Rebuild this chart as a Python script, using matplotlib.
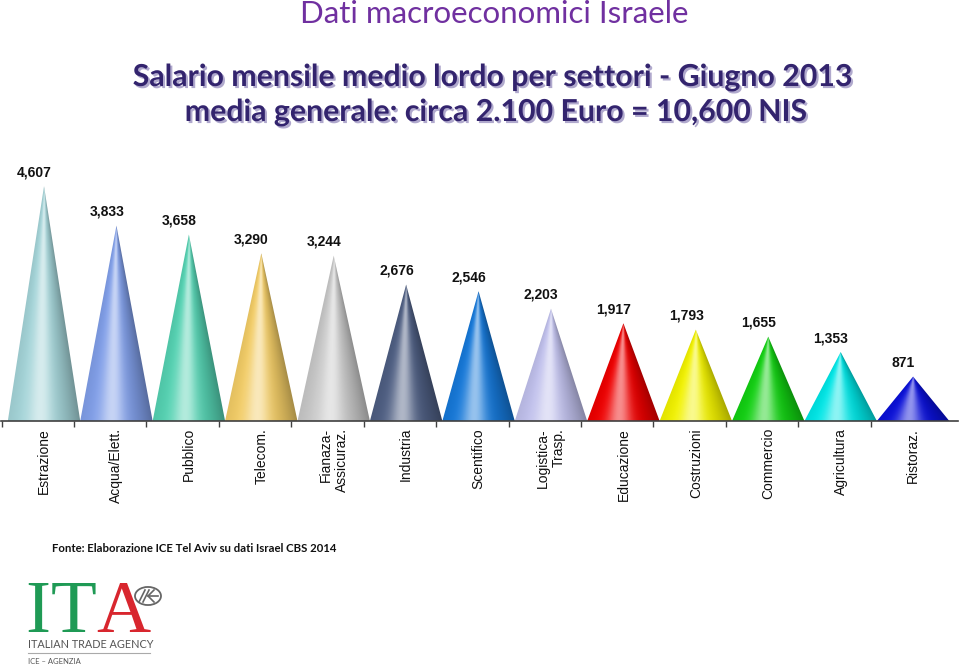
import numpy as np
import matplotlib
matplotlib.use('Agg')
from matplotlib import pyplot as plt
from matplotlib.patches import Polygon, Circle
from matplotlib.colors import to_rgb
import matplotlib.patheffects as pe

# dati: salario mensile medio lordo per settore (NIS), giugno 2013
settori = ['Estrazione', 'Acqua/Elett.', 'Pubblico', 'Telecom.', 'Fianaza-\nAssicuraz.',
           'Industria', 'Scentifico', 'Logistica-\nTrasp.', 'Educazione', 'Costruzioni',
           'Commercio', 'Agricultura', 'Ristoraz.']
salari = [4607, 3833, 3658, 3290, 3244, 2676, 2546, 2203, 1917, 1793, 1655, 1353, 871]
colori = ['#a4d4d8', '#809ee8', '#55d2b2', '#f2cc66', '#c8c8c8', '#4e5e82', '#1678d8',
          '#c0c0ec', '#ee0000', '#f2f200', '#12d012', '#00e6e6', '#0a10d8']

W, H = 960, 667


def px(x, y):
    # pixel coords (from top-left) -> figure fraction
    return x / W, 1 - y / H


def cone_image(color, nx=120, ny=240):
    base = np.array(to_rgb(color))
    X, Y = np.meshgrid(np.linspace(-1, 1, nx), np.linspace(0, 1, ny))
    half = np.clip(1 - Y, 1e-3, None)
    u = np.clip(X / half, -1, 1)
    hl = 0.55 * np.exp(-((u + 0.12) / 0.34) ** 2)
    dk = 0.32 * np.clip(u, 0, None) ** 1.6 + 0.15 * np.clip(-u - 0.6, 0, None)
    rgb = base * (1 - hl[..., None]) + hl[..., None]
    rgb = rgb * (1 - dk[..., None])
    return np.clip(rgb, 0, 1)


fig = plt.figure(figsize=(9.6, 6.67), dpi=100)
ax = fig.add_axes([1 / W, 246 / H, 957 / W, 261 / H])

larg = 1.0
for i, (v, c) in enumerate(zip(salari, colori)):
    tri = Polygon([(i - larg / 2, 0), (i, v), (i + larg / 2, 0)], closed=True,
                  transform=ax.transData, facecolor='none', edgecolor='none')
    ax.add_patch(tri)
    im = ax.imshow(cone_image(c), origin='lower', aspect='auto',
                   extent=(i - larg / 2, i + larg / 2, 0, v), interpolation='bilinear')
    im.set_clip_path(tri)
    ax.annotate(f'{v:,}', (i, v), xytext=(-7, 5), textcoords='offset points',
                ha='center', va='bottom', fontsize=10, fontweight='bold',
                family='Liberation Sans', color='#111111')

ax.set_xlim(-0.594, 12.62)
ax.set_ylim(0, 5120)
ax.set_aspect('auto')

ax.set_xticks(range(len(settori)))
ax.set_xticklabels(settori, rotation=90, fontsize=10, family='Liberation Sans',
                   multialignment='right', color='#111111')
ax.tick_params(axis='x', which='major', length=0, pad=5)
ax.set_xticks(np.arange(len(settori)) - 0.5 - 0.085, minor=True)
ax.tick_params(axis='x', which='minor', length=4, width=1, color='#404040')
ax.set_yticks([])
for s in ['top', 'left', 'right']:
    ax.spines[s].set_visible(False)
ax.spines['bottom'].set_color('#404040')
ax.spines['bottom'].set_linewidth(1.2)

# titoli
fig.text(*px(494, 14), 'Dati macroeconomici Israele', ha='center', va='center',
         fontsize=22.5, family='Lato', color='#7030a0')
ombra = [pe.withSimplePatchShadow(offset=(1.5, -1.5), shadow_rgbFace='#a8a0c8', alpha=0.9)]
fig.text(*px(493, 77), 'Salario mensile medio lordo per settori - Giugno 2013',
         ha='center', va='center', fontsize=21.8, fontweight='bold', family='Lato',
         color='#33246e', path_effects=ombra)
fig.text(*px(496, 112), 'media generale: circa 2.100 Euro = 10,600 NIS',
         ha='center', va='center', fontsize=21.8, fontweight='bold', family='Lato',
         color='#33246e', path_effects=ombra)

fig.text(*px(52, 548), 'Fonte: Elaborazione ICE Tel Aviv su dati Israel CBS 2014',
         ha='left', va='center', fontsize=8.2, fontweight='bold', family='Lato',
         color='#111111')

# logo ITA
verde, rosso, grigio = '#1f9a55', '#d8262e', '#666666'
for lett, x0, col in [('I', 25, verde), ('T', 51, verde), ('A', 96, rosso)]:
    fig.text(*px(x0, 632), lett, ha='left', va='baseline', fontsize=54,
             family='Liberation Serif', color=col)
circ = Circle(px(148, 596), 13 / W, transform=fig.transFigure, fill=False,
              edgecolor=grigio, linewidth=1.3)
fig.patches.append(circ)
for dx in (0, 4):
    fig.add_artist(plt.Line2D([(139 + dx) / W, (145 + dx) / W], [1 - 602 / H, 1 - 590 / H],
                              transform=fig.transFigure, color=grigio, linewidth=1.2))
fig.add_artist(plt.Line2D([154 / W, 148 / W, 154 / W], [1 - 590 / H, 1 - 596 / H, 1 - 602 / H],
                          transform=fig.transFigure, color=grigio, linewidth=1.2))
fig.add_artist(plt.Line2D([148 / W, 158 / W], [1 - 596 / H] * 2,
                          transform=fig.transFigure, color=grigio, linewidth=1.2))
fig.text(*px(28, 645), 'ITALIAN TRADE AGENCY', ha='left', va='center', fontsize=7.8,
         family='Lato', color='#555555')
fig.add_artist(plt.Line2D([28 / W, 150 / W], [1 - 653 / H] * 2,
                          transform=fig.transFigure, color='#aaaaaa', linewidth=0.8))
fig.text(*px(28, 661), 'ICE – AGENZIA', ha='left', va='center', fontsize=5.5,
         family='Lato', color='#555555')

fig.savefig('out.png', dpi=100)
